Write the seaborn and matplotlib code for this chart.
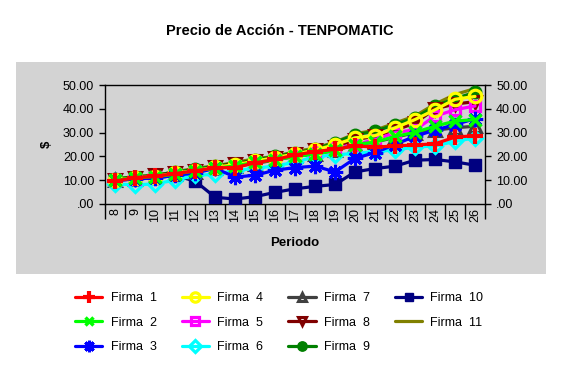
import numpy as np
import pandas as pd
import seaborn as sns
import matplotlib.pyplot as plt
from matplotlib.patches import Rectangle
from matplotlib.ticker import FuncFormatter, FixedLocator

sns.set_style("white")
plt.rcParams['font.family'] = ['Liberation Sans', 'DejaVu Sans']
plt.rcParams['text.color'] = 'black'
plt.rcParams['xtick.color'] = 'black'
plt.rcParams['ytick.color'] = 'black'

periodos = list(range(8, 27))

firma1 = [9.6, 11.1, 11.6, 12.8, 13.9, 15.2, 15.3, 17.3, 18.7, 20.6, 22.0, 23.0, 24.4, 23.9, 24.4, 24.8, 25.3, 28.1, 28.7]
firma2 = [10.0, 11.0, 11.5, 12.5, 14.0, 15.0, 16.0, 17.5, 18.5, 20.0, 21.0, 22.5, 25.0, 26.0, 28.4, 30.1, 32.7, 34.8, 35.5]
firma3 = [10.0, 10.5, 11.0, 12.0, 13.0, 15.0, 11.3, 12.1, 14.2, 15.3, 15.9, 13.5, 19.2, 21.6, 25.0, 28.5, 31.0, 33.4, 35.8]
firma4 = [10.0, 11.0, 11.5, 13.0, 14.0, 15.5, 16.5, 18.0, 19.5, 21.0, 22.7, 24.9, 27.8, 28.7, 32.0, 35.5, 39.6, 44.0, 45.2]
firma5 = [10.0, 10.5, 11.5, 12.5, 14.0, 15.0, 16.0, 17.5, 19.0, 20.5, 22.0, 23.5, 25.0, 27.0, 30.0, 31.2, 36.9, 39.6, 41.2]
firma6 = [8.5, 8.0, 8.5, 10.0, 12.0, 12.5, 14.0, 15.0, 16.0, 17.5, 19.9, 20.6, 21.3, 22.0, 22.7, 23.9, 24.4, 26.3, 27.8]
firma7 = [10.0, 10.5, 11.5, 12.5, 13.5, 15.0, 16.0, 17.0, 18.5, 20.0, 21.0, 22.5, 25.0, 26.0, 28.0, 30.0, 31.0, 32.0, 32.7]
firma8 = [10.0, 11.0, 12.0, 13.0, 14.0, 15.5, 17.0, 18.0, 19.5, 21.0, 22.5, 24.0, 27.0, 28.5, 31.0, 34.0, 40.0, 42.0, 43.0]
firma9 = [10.5, 11.5, 12.0, 13.5, 14.5, 16.0, 17.0, 18.5, 20.0, 21.5, 23.0, 25.8, 29.1, 30.5, 33.4, 36.2, 41.2, 44.3, 46.9]
firma10 = [10.0, 10.5, 11.0, 12.0, 9.6, 2.8, 2.1, 3.1, 4.9, 6.4, 7.4, 8.2, 13.5, 14.9, 15.9, 18.4, 18.7, 17.7, 16.3]
firma11 = [10.5, 11.5, 12.0, 13.5, 15.0, 16.0, 17.5, 19.0, 20.0, 22.0, 23.5, 26.0, 29.5, 31.0, 34.0, 37.0, 42.0, 46.0, 48.5]

series = [firma1, firma2, firma3, firma4, firma5, firma6, firma7, firma8, firma9, firma10, firma11]
nombres = ["Firma  %d" % i for i in range(1, 12)]

# estilo de cada serie (color, marcador, tamaño, relleno)
estilos = [
    dict(color="#FF0000", marker="+", ms=11, mew=3),
    dict(color="#00FF00", marker="x", ms=8, mew=2.5),
    dict(color="#0000FF", marker=(8, 2, 0), ms=11, mew=2.2),
    dict(color="#FFFF00", marker="o", ms=9, mew=2.3, mfc="none"),
    dict(color="#FF00FF", marker="s", ms=7, mew=2.3, mfc="none"),
    dict(color="#00FFFF", marker="D", ms=7.5, mew=2.3, mfc="none"),
    dict(color="#404040", marker="^", ms=8, mew=2.2, mfc="none"),
    dict(color="#800000", marker="v", ms=8, mew=2.2, mfc="none"),
    dict(color="#008000", marker="o", ms=9),
    dict(color="#000080", marker="s", ms=8.5),
    dict(color="#808000", marker=None, ms=0),
]

gris = "#D3D3D3"
fig = plt.figure(figsize=(5.62, 3.72), dpi=100)
fig.patch.set_facecolor("white")
fig.patches.append(Rectangle((16/562, 1-274/372), 530/562, 212/372, transform=fig.transFigure,
                             facecolor=gris, edgecolor="none", zorder=-10))

ax = fig.add_axes([105.3/562, 1-204/372, 379.7/562, 119/372])
ax.set_facecolor(gris)

handles = []
for i, (vals, nom, est) in enumerate(zip(series, nombres, estilos)):
    df = pd.DataFrame({"Periodo": periodos, "Precio": vals})
    sns.lineplot(data=df, x="Periodo", y="Precio", ax=ax, color=est["color"], linewidth=2.3,
                 marker=est["marker"], markersize=est["ms"], markeredgewidth=est.get("mew", 1),
                 markerfacecolor=est.get("mfc", est["color"]), markeredgecolor=est["color"],
                 zorder=20 - i, label=nom)
    handles.append(ax.lines[-1])
ax.get_legend().remove()

ax.set_xlim(7.5, 26.5)
ax.set_ylim(0, 50)
ax.set_xlabel("")
ax.set_ylabel("")
for s in ax.spines.values():
    s.set_color("black")
    s.set_linewidth(1.0)

fmt = FuncFormatter(lambda v, p: ("%.2f" % v).lstrip("0") if v < 1 else "%.2f" % v)
ax.set_yticks([0, 10, 20, 30, 40, 50])
ax.yaxis.set_major_formatter(fmt)
ax.tick_params(axis="y", direction="out", length=4, width=1, pad=4, labelsize=9, left=True, colors="black")

ax.set_xticks(periodos)
ax.set_xticklabels([str(p) for p in periodos], rotation=90)
ax.xaxis.set_minor_locator(FixedLocator(np.arange(7.5, 27, 1)))
ax.tick_params(axis="x", which="major", length=0, pad=3, labelsize=9)
ax.tick_params(axis="x", which="minor", direction="out", length=11, width=1, bottom=True)

ax2 = ax.twinx()
ax2.set_ylim(0, 50)
ax2.set_yticks([0, 10, 20, 30, 40, 50])
ax2.yaxis.set_major_formatter(fmt)
ax2.tick_params(axis="y", direction="out", length=4, width=1, pad=4, labelsize=9, right=True)
for s in ax2.spines.values():
    s.set_visible(False)

fig.text(0.497, 1-31/372, "Precio de Acción - TENPOMATIC", ha="center", va="center",
         fontsize=10.5, fontweight="bold")
fig.text(295/562, 1-243/372, "Periodo", ha="center", va="center", fontsize=9.5, fontweight="bold")
fig.text(47/562, 1-144/372, "$", ha="center", va="center", fontsize=9.5, fontweight="bold", rotation=90)

fig.legend(handles=handles, labels=nombres, loc="upper left", bbox_to_anchor=(75/562, 1-292/372),
           ncol=4, frameon=False, fontsize=9, handlelength=2.2, handletextpad=0.65,
           columnspacing=2.0, labelspacing=1.0, borderpad=0, borderaxespad=0, markerscale=0.75)

fig.savefig("out.png", dpi=100, facecolor="white")
